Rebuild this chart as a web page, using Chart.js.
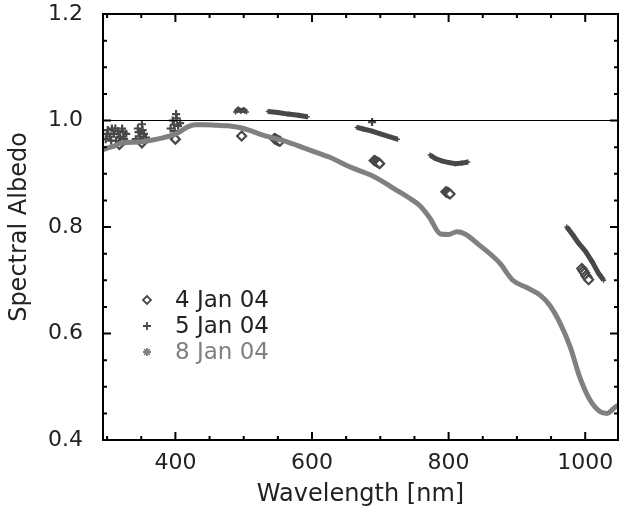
<!DOCTYPE html>
<html>
<head>
<meta charset="utf-8">
<script src="https://cdn.jsdelivr.net/npm/chart.js@4/dist/chart.umd.min.js"></script>
<style>
  html, body { margin: 0; padding: 0; background: #fff; }
  #wrap { width: 620px; height: 519px; }
</style>
</head>
<body>
<div id="wrap"><canvas id="albedo"></canvas></div>
<script>
// 8 Jan 04 - continuous spectrum (grey)
const jan8Wave = [294, 300, 310, 322, 335, 351, 365, 380, 392, 404, 418, 429, 443, 460, 477, 497, 512, 527, 541, 556, 570, 585, 604, 626, 655, 685, 700, 724, 743, 758, 772, 788, 800, 812, 824, 846, 863, 875, 894, 915, 934, 948, 963, 978, 992, 1007, 1022, 1032, 1044, 1048];
const jan8Alb  = [0.945, 0.948, 0.952, 0.958, 0.959, 0.960, 0.963, 0.967, 0.971, 0.977, 0.988, 0.992, 0.992, 0.991, 0.990, 0.986, 0.980, 0.973, 0.968, 0.963, 0.957, 0.950, 0.941, 0.931, 0.913, 0.898, 0.888, 0.869, 0.854, 0.840, 0.818, 0.787, 0.786, 0.791, 0.787, 0.765, 0.747, 0.732, 0.700, 0.686, 0.672, 0.653, 0.620, 0.575, 0.518, 0.475, 0.453, 0.450, 0.462, 0.465];

// 5 Jan 04 - plus symbols, bands (null = gap)
const jan5Wave = [488, 492, 496, 500, 504, 520,
                  536, 550, 565, 580, 593, 630,
                  666, 675, 688, 700, 712, 725, 750,
                  773, 780, 790, 800, 810, 820, 828, 900,
                  973, 982, 990, 1000, 1010, 1020, 1027];
const jan5Alb  = [1.016, 1.021, 1.018, 1.020, 1.016, null,
                  1.017, 1.015, 1.012, 1.010, 1.007, null,
                  0.987, 0.984, 0.980, 0.975, 0.970, 0.965, null,
                  0.935, 0.929, 0.924, 0.921, 0.919, 0.920, 0.922, null,
                  0.800, 0.785, 0.770, 0.755, 0.735, 0.712, 0.700];
// 5 Jan 04 - scattered plus clusters in the blue
const jan5ClusterWave = [298, 301, 304, 307, 310, 313, 316, 319, 322, 325, 328, 300, 306, 312, 318, 324,
                         342, 345, 348, 351, 354, 357, 346, 352,
                         393, 396, 399, 401, 404, 407, 398, 402, 688];
const jan5ClusterAlb  = [0.965, 0.982, 0.970, 0.985, 0.975, 0.962, 0.980, 0.970, 0.985, 0.965, 0.975, 0.975, 0.962, 0.985, 0.968, 0.978,
                         0.965, 0.985, 0.970, 0.993, 0.975, 0.968, 0.978, 0.982,
                         0.985, 1.000, 0.980, 1.012, 0.990, 0.995, 0.992, 1.004, 0.997];

// 4 Jan 04 - diamonds
const jan4Wave = [318, 351, 400, 497, 545, 547, 549, 551, 553, 691, 693, 695, 697, 699, 796, 798, 800, 802, 995, 997, 999, 1001, 1003, 1005];
const jan4Alb  = [0.955, 0.958, 0.965, 0.971, 0.966, 0.965, 0.963, 0.962, 0.961, 0.925, 0.924, 0.922, 0.921, 0.919, 0.866, 0.865, 0.864, 0.862, 0.722, 0.718, 0.714, 0.709, 0.705, 0.701];

const xTickLabels = [400, 600, 800, 1000];
const yTickLabels = [0.4, 0.6, 0.8, 1.0, 1.2];
const legendLabels = ['4 Jan 04', '5 Jan 04', '8 Jan 04'];

function pts(xs, ys) {
    return xs.map(function (x, i) { return { x: x, y: ys[i] }; });
}

const FONT = "'DejaVu Sans', sans-serif";
const DARK = '#484848';
const GREY = '#808080';
const PLOT_RIGHT = 618;

// push the plot box out to the right edge, as in the original
const edgePlugin = {
    id: 'edge',
    afterLayout(chart) {
        const a = chart.chartArea;
        const xs = chart.scales.x;
        a.right = PLOT_RIGHT;
        a.width = a.right - a.left;
        xs.right = PLOT_RIGHT;
        xs.width = xs.right - xs.left;
        xs.configure();
    }
};

// frame, inward ticks on all four sides, the 1.0 line and the legend
const framePlugin = {
    id: 'frame',
    afterDraw(chart) {
        const ctx = chart.ctx;
        const a = chart.chartArea;
        const xs = chart.scales.x, ys = chart.scales.y;
        ctx.save();
        ctx.strokeStyle = '#000';
        ctx.lineWidth = 2;
        ctx.beginPath();
        ctx.moveTo(a.left, a.top); ctx.lineTo(a.right, a.top);
        ctx.lineTo(a.right, a.bottom); ctx.lineTo(a.left, a.bottom);
        ctx.closePath();
        // x ticks every 50 nm, long ones every 200
        for (let w = 300; w <= 1050; w += 50) {
            const px = xs.getPixelForValue(w);
            if (px < a.left + 1 || px > a.right - 1) continue;
            const len = (w % 200 === 0) ? 8 : 4;
            ctx.moveTo(px, a.bottom); ctx.lineTo(px, a.bottom - len);
            ctx.moveTo(px, a.top); ctx.lineTo(px, a.top + len);
        }
        // y ticks every 0.05, long ones every 0.2
        for (let k = 9; k < 24; k++) {
            const py = ys.getPixelForValue(k * 0.05);
            const len = (k % 4 === 0) ? 8 : 4;
            ctx.moveTo(a.left, py); ctx.lineTo(a.left + len, py);
            ctx.moveTo(a.right, py); ctx.lineTo(a.right - len, py);
        }
        ctx.stroke();

        ctx.lineWidth = 1.2;
        const y1 = ys.getPixelForValue(1.0);
        ctx.beginPath();
        ctx.moveTo(a.left, y1); ctx.lineTo(a.right, y1);
        ctx.stroke();

        // legend
        const styles = ['rectRot', 'cross', 'star'];
        const colors = [DARK, DARK, GREY];
        const textColors = ['#222', '#222', GREY];
        const x0 = 147, y0 = 300, step = 26;
        ctx.font = '23px ' + FONT;
        ctx.textBaseline = 'middle';
        ctx.textAlign = 'left';
        for (let i = 0; i < legendLabels.length; i++) {
            const y = y0 + i * step;
            ctx.strokeStyle = colors[i];
            ctx.fillStyle = '#fff';
            ctx.lineWidth = 1.8;
            Chart.helpers.drawPoint(ctx, { pointStyle: styles[i], radius: 4, rotation: 0, borderWidth: 1.8 }, x0, y);
            ctx.fillStyle = textColors[i];
            ctx.fillText(legendLabels[i], x0 + 28, y + 1);
        }
        ctx.restore();
    }
};

const config = {
    type: 'scatter',
    data: {
        datasets: [
            {
                label: legendLabels[2],
                data: pts(jan8Wave, jan8Alb),
                showLine: true,
                borderColor: GREY,
                backgroundColor: GREY,
                borderWidth: 5,
                pointRadius: 0,
                cubicInterpolationMode: 'monotone'
            },
            {
                label: legendLabels[1],
                data: pts(jan5Wave, jan5Alb),
                showLine: true,
                spanGaps: false,
                borderColor: DARK,
                backgroundColor: DARK,
                borderWidth: 5,
                pointStyle: 'cross',
                pointRadius: 2.5,
                pointBorderWidth: 1.5
            },
            {
                label: legendLabels[1] + ' (scatter)',
                data: pts(jan5ClusterWave, jan5ClusterAlb),
                showLine: false,
                borderColor: DARK,
                backgroundColor: DARK,
                pointStyle: 'cross',
                pointRadius: 4,
                pointBorderWidth: 2.2
            },
            {
                label: legendLabels[0],
                data: pts(jan4Wave, jan4Alb),
                showLine: false,
                borderColor: DARK,
                backgroundColor: '#fff',
                pointStyle: 'rectRot',
                pointRadius: 4.5,
                pointBorderWidth: 2.2
            }
        ]
    },
    options: {
        responsive: true,
        maintainAspectRatio: false,
        animation: false,
        layout: { padding: { left: 0, top: 14, right: 2, bottom: 0 } },
        plugins: {
            legend: { display: false },
            tooltip: { enabled: false }
        },
        scales: {
            x: {
                type: 'linear',
                min: 294,
                max: 1048,
                afterBuildTicks(scale) {
                    scale.ticks = xTickLabels.map(function (v) { return { value: v }; });
                },
                afterFit(scale) {
                    scale.height = 79;
                    scale.paddingLeft = 0;
                    scale.paddingRight = 0;
                },
                grid: { display: false, drawTicks: false },
                border: { display: false },
                ticks: {
                    color: '#222',
                    padding: 10,
                    maxRotation: 0,
                    callback: function (v) { return String(v); },
                    font: { family: FONT, size: 22 }
                },
                title: {
                    display: true,
                    text: 'Wavelength [nm]',
                    color: '#222',
                    padding: { top: 0, bottom: 10 },
                    font: { family: FONT, size: 24 }
                }
            },
            y: {
                min: 0.4,
                max: 1.2,
                afterBuildTicks(scale) {
                    scale.ticks = yTickLabels.map(function (v) { return { value: v }; });
                },
                afterFit(scale) {
                    scale.width = 103;
                    scale.paddingTop = 0;
                    scale.paddingBottom = 0;
                },
                grid: { display: false, drawTicks: false },
                border: { display: false },
                ticks: {
                    color: '#222',
                    padding: 20,
                    callback: function (v) { return v.toFixed(1); },
                    font: { family: FONT, size: 22 }
                },
                title: {
                    display: true,
                    text: 'Spectral Albedo',
                    color: '#222',
                    padding: { top: 5, bottom: 0 },
                    font: { family: FONT, size: 24 }
                }
            }
        }
    },
    plugins: [edgePlugin, framePlugin]
};

const graficoAlbedo = new Chart(document.getElementById('albedo'), config);
</script>
</body>
</html>
